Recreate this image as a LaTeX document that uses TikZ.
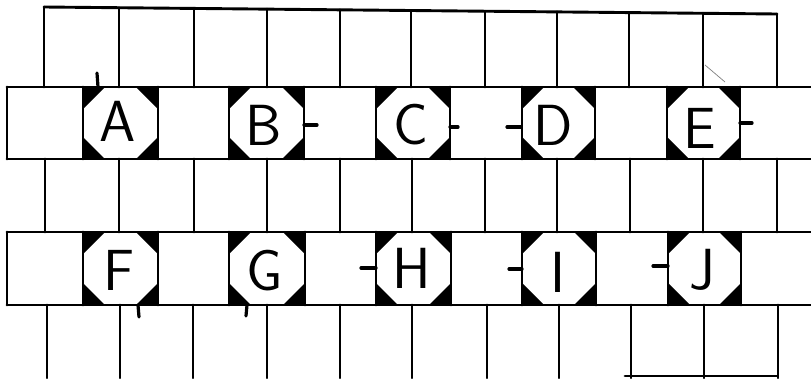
\documentclass[tikz,border=0pt]{standalone}
\begin{document}
\begin{tikzpicture}[x=1pt,y=-1pt,
  gridline/.style={line width=2.9pt, line cap=round},
  letter/.style={font=\sffamily\fontsize{58}{58}\selectfont, inner sep=0pt},
  handmark/.style={line width=3.2pt, line cap=round},
  stray/.style={line width=0.7pt, gray}]
\useasboundingbox (0,0) rectangle (811,378);
\fill[white] (0,0) rectangle (811,378);
% corner triangles of the octagon tiles: \octtile{left}{top}{right}{bottom}
\newcommand\octtile[4]{%
  \fill (#1,#2) -- ++(22,0) -- ++(-22,22) -- cycle;
  \fill (#3,#2) -- ++(-22,0) -- ++(22,22) -- cycle;
  \fill (#1,#4) -- ++(22,0) -- ++(-22,-22) -- cycle;
  \fill (#3,#4) -- ++(-22,0) -- ++(22,-22) -- cycle;}
\foreach \l/\r in {83/158,229/304,376/450,522/595,667/740}{\octtile{\l}{87}{\r}{159}}
\foreach \l/\r in {83/158,229/305,376/451,522/596,668/741}{\octtile{\l}{232}{\r}{305}}
% top row
\draw[gridline] (44,7) -- (777,14);
\foreach \x in {44,119,194,267,340,411,485,557,629,703,777}{
  \pgfmathsetmacro\t{7+(\x-44)*7/733}
  \draw[gridline] (\x,\t) -- (\x,87);}
% row of A..E
\draw[gridline] (7,87) -- (811,87);
\draw[gridline] (7,159) -- (811,159);
\foreach \x in {7,83,158,229,304,376,450,522,595,667,740}{\draw[gridline] (\x,87) -- (\x,159);}
% middle row
\foreach \x in {45,119,194,267,340,412,485,557,630,703,777}{\draw[gridline] (\x,159) -- (\x,232);}
% row of F..J
\draw[gridline] (7,232) -- (811,232);
\draw[gridline] (7,305) -- (811,305);
\foreach \x in {7,83,158,229,305,376,451,522,596,668,741}{\draw[gridline] (\x,232) -- (\x,305);}
% bottom row
\foreach \x in {47,120,193,267,340,412,487,559,631,704,778}{\draw[gridline] (\x,305) -- (\x,378);}
\draw[gridline] (625,376) -- (777,376);
% letters
\node[letter] (A) at (118,121) {A};
\node[letter] (B) at (264,125) {B};
\node[letter] (C) at (411,125) {C};
\node[letter] (D) at (553,125) {D};
\node[letter] (E) at (700,128) {E};
\node[letter] (F) at (119,270) {F};
\node[letter] (G) at (265,271) {G};
\node[letter] (H) at (412,268) {H};
\node[letter] (I) at (558,272) {I};
\node[letter] (J) at (702,270) {J};
% hand marks
\draw[handmark] (97,73) -- (98,87);
\draw[handmark] (304,125) -- (317,125);
\draw[handmark] (450,127) -- (458,127);
\draw[handmark] (507,127) -- (521,127);
\draw[handmark] (740,123) -- (752,123);
\draw[handmark] (361,268) -- (376,268);
\draw[handmark] (509,269) -- (522,269);
\draw[handmark] (653,266) -- (668,266);
\draw[handmark] (138,305) -- (139,317);
\draw[handmark] (247,305) -- (246,316);
\draw[stray] (705,65) -- (725,82);
\end{tikzpicture}
\end{document}
